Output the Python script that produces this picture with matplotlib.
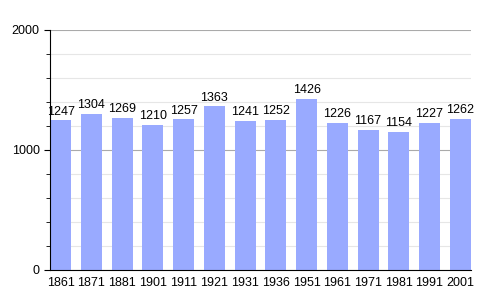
import matplotlib.pyplot as plt
from matplotlib.ticker import MultipleLocator

plt.rcParams['font.family'] = ['Liberation Sans', 'DejaVu Sans']

years = ["1861", "1871", "1881", "1901", "1911", "1921", "1931",
         "1936", "1951", "1961", "1971", "1981", "1991", "2001"]
population = [1247, 1304, 1269, 1210, 1257, 1363, 1241,
              1252, 1426, 1226, 1167, 1154, 1227, 1262]

fig = plt.figure(figsize=(5, 3), dpi=100)
ax = fig.add_axes([0.1, 0.1, 0.842, 0.8])

x = range(len(years))
ax.bar(x, population, width=0.68, color="#99aaff", zorder=2)

for i, v in zip(x, population):
    ax.text(i, v + 22, str(v), ha="center", va="bottom", fontsize=9)

ax.set_xlim(-0.35, len(years) - 0.65)
ax.set_ylim(0, 2000)
ax.set_xticks(list(x))
ax.set_xticklabels(years, fontsize=9)
ax.yaxis.set_major_locator(MultipleLocator(1000))
ax.yaxis.set_minor_locator(MultipleLocator(200))
ax.tick_params(axis="y", labelsize=9, length=4)
ax.tick_params(axis="y", which="minor", length=3)
ax.tick_params(axis="x", length=0, pad=5)

ax.grid(axis="y", which="major", color="#aaaaaa", lw=0.8, zorder=0)
ax.grid(axis="y", which="minor", color="#e6e6e6", lw=0.8, zorder=0)

ax.spines["top"].set_visible(False)
ax.spines["right"].set_visible(False)

plt.savefig("out.png")
